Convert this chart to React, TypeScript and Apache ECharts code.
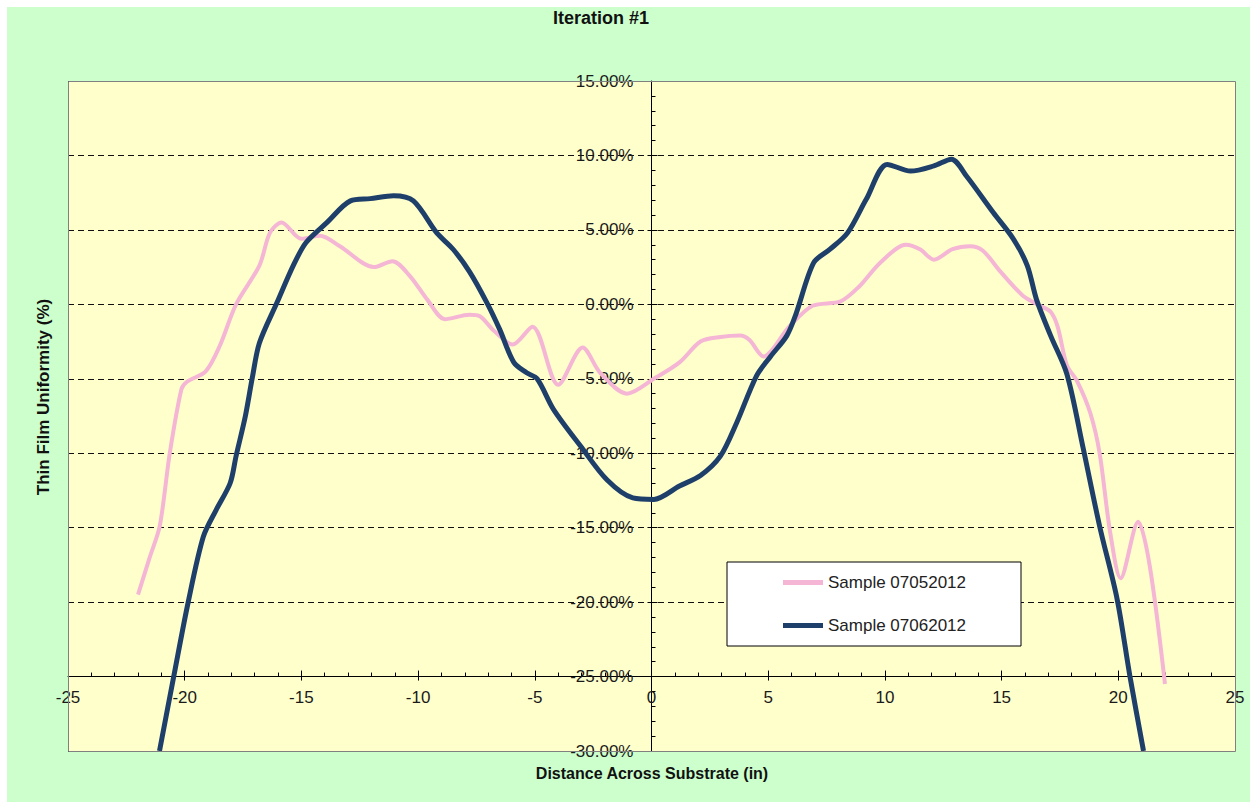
import React, { useEffect, useRef } from "react";
import * as echarts from "echarts";

const titleText = "Iteration #1";
const xAxisTitle = "Distance Across Substrate (in)";
const yAxisTitle = "Thin Film Uniformity (%)";
const seriesNames = ["Sample 07052012", "Sample 07062012"];

// [distance (in), uniformity (%)]
const sample0705: [number, number][] = [
  [-22.0, -19.5], [-21.5, -17.0], [-21.07, -14.9], [-20.64, -10.0], [-20.14, -5.7],
  [-19.9, -5.2], [-19.1, -4.5], [-18.5, -2.8], [-17.8, 0.0], [-16.8, 2.6],
  [-16.35, 4.8], [-15.85, 5.5], [-15.0, 4.4], [-14.2, 4.6], [-13.35, 3.9],
  [-11.9, 2.5], [-11.1, 2.9], [-10.35, 1.9], [-9.6, 0.3], [-8.85, -1.0],
  [-7.8, -0.7], [-7.35, -0.8], [-6.8, -1.7], [-5.95, -2.7], [-5.1, -1.5],
  [-4.0, -5.4], [-2.95, -2.9], [-2.2, -4.6], [-1.05, -6.0], [0.1, -5.0],
  [1.2, -3.9], [2.1, -2.5], [2.95, -2.2], [3.8, -2.1], [4.2, -2.4],
  [4.8, -3.5], [5.9, -1.5], [6.9, -0.1], [8.1, 0.2], [8.9, 1.2],
  [9.8, 2.8], [10.9, 4.0], [11.5, 3.7], [12.1, 3.0], [12.9, 3.7],
  [13.65, 3.9], [14.2, 3.6], [14.95, 2.2], [15.9, 0.6], [16.65, -0.1],
  [17.1, -0.5], [17.4, -1.5], [17.8, -4.1], [18.25, -5.2], [18.8, -7.3],
  [19.2, -10.0], [19.65, -15.3], [20.1, -18.4], [20.85, -14.6], [21.35, -17.6],
  [22.0, -25.5],
];

const sample0706: [number, number][] = [
  [-21.08, -30.0], [-20.47, -25.0], [-19.85, -20.0], [-19.2, -15.6], [-18.65, -13.8],
  [-18.05, -12.0], [-17.8, -10.2], [-17.4, -7.5], [-17.1, -4.9], [-16.8, -2.6],
  [-16.05, 0.1], [-15.35, 2.6], [-14.8, 4.15], [-13.9, 5.5], [-12.9, 6.95],
  [-12.05, 7.1], [-11.05, 7.3], [-10.2, 6.95], [-9.2, 4.8], [-8.5, 3.7],
  [-7.8, 2.2], [-7.05, 0.1], [-6.5, -1.7], [-5.9, -3.9], [-5.35, -4.6],
  [-4.9, -5.0], [-4.2, -7.05], [-3.05, -9.5], [-1.9, -11.8], [-0.8, -13.0],
  [0.1, -13.1], [1.2, -12.2], [2.1, -11.5], [2.95, -10.2], [3.65, -7.95],
  [4.5, -4.8], [5.1, -3.5], [5.8, -2.1], [6.2, -0.6], [6.95, 2.8],
  [7.65, 3.7], [8.4, 4.8], [9.2, 7.05], [10.1, 9.4], [11.1, 8.95],
  [12.1, 9.3], [12.85, 9.75], [13.5, 8.6], [14.65, 6.15], [15.5, 4.4],
  [16.1, 2.6], [16.5, 0.3], [17.1, -2.1], [17.8, -4.7], [18.5, -9.7],
  [19.2, -14.9], [19.95, -19.8], [20.5, -25.0], [21.08, -30.0],
];

const xMin = -25;
const xMax = 25;
const xStep = 5;
const yMin = -30;
const yMax = 15;
const yStep = 5;
const xCross = 0; // y axis drawn at x = 0
const yCross = -25; // x axis drawn at y = -25%

const FONT = "'Liberation Sans', Arial, sans-serif";

export default function App() {
  const ref = useRef<HTMLDivElement>(null);

  useEffect(() => {
    if (!ref.current) return;
    const chart = echarts.init(ref.current, undefined, { renderer: "svg" });
    const gl = 61, gt = 74, gw = 1167, gh = 670;
    const yAxisLeft = gl + (gw * (xCross - xMin)) / (xMax - xMin);
    const xAxisHeight = (gh * (yMax - yCross)) / (yMax - yMin);
    const baseGrid = { outerBoundsMode: "none", containLabel: false, show: false };
    const hiddenVal = (gridIndex: number) => ({ type: "value", gridIndex, min: 0, max: 1, show: false, splitLine: { show: false } });
    const tickLine = { lineStyle: { color: "#000", width: 1 } };
    chart.setOption({
      animation: false,
      backgroundColor: "#CCFFCC",
      textStyle: { fontFamily: FONT },
      grid: [
        { ...baseGrid, left: gl, top: gt, width: gw, height: gh, show: true, backgroundColor: "#FFFFCC", borderWidth: 0 },
        { ...baseGrid, left: gl, top: gt, width: gw, height: xAxisHeight },
        { ...baseGrid, left: yAxisLeft, top: gt, width: 2, height: gh },
        { ...baseGrid, left: gl, top: gt, width: gw, height: xAxisHeight },
        { ...baseGrid, left: yAxisLeft, top: gt, width: 2, height: gh },
      ],
      xAxis: [
        { type: "value", gridIndex: 0, min: xMin, max: xMax, interval: xStep, show: false, splitLine: { show: false } },
        {
          type: "value", gridIndex: 1, min: xMin, max: xMax, interval: xStep, position: "bottom",
          axisLine: { show: true, onZero: false, ...tickLine },
          axisTick: { show: true, inside: true, length: 6, ...tickLine },
          minorTick: { show: true, splitNumber: 5, length: 4, ...tickLine },
          axisLabel: { fontSize: 17, color: "#1a1a1a", margin: 12, fontFamily: FONT, showMinLabel: true, showMaxLabel: true },
          splitLine: { show: false },
        },
        hiddenVal(2),
        {
          type: "value", gridIndex: 3, min: xMin, max: xMax, interval: xStep, position: "bottom",
          axisLine: { show: false, onZero: false },
          axisTick: { show: true, inside: false, length: 4, ...tickLine },
          axisLabel: { show: false },
          splitLine: { show: false },
        },
        hiddenVal(4),
      ],
      yAxis: [
        {
          type: "value", gridIndex: 0, min: yMin, max: yMax, interval: yStep,
          axisLine: { show: false }, axisTick: { show: false }, axisLabel: { show: false },
          splitLine: { show: true, lineStyle: { color: "#111", width: 1, type: [6, 4] } },
        },
        hiddenVal(1),
        {
          type: "value", gridIndex: 2, min: yMin, max: yMax, interval: yStep, position: "left",
          axisLine: { show: true, onZero: false, ...tickLine },
          axisTick: { show: true, inside: true, length: 6, ...tickLine },
          minorTick: { show: true, splitNumber: 5, length: 4, ...tickLine },
          axisLabel: {
            fontSize: 17, color: "#1a1a1a", margin: 18, fontFamily: FONT,
            formatter: (v: number) => v.toFixed(2) + "%",
          },
          splitLine: { show: false },
        },
        hiddenVal(3),
        {
          type: "value", gridIndex: 4, min: yMin, max: yMax, interval: yStep, position: "left",
          axisLine: { show: false, onZero: false },
          axisTick: { show: true, inside: false, length: 4, ...tickLine },
          axisLabel: { show: false },
          splitLine: { show: false },
        },
      ],
      legend: {
        orient: "vertical",
        left: 720,
        top: 555,
        backgroundColor: "#fff",
        borderColor: "#000",
        borderWidth: 1,
        padding: [12, 55, 12, 56],
        itemGap: 26,
        itemWidth: 40,
        itemHeight: 5,
        icon: "rect",
        textStyle: { fontSize: 17, color: "#222", fontFamily: FONT },
        data: seriesNames,
      },
      series: [
        {
          name: seriesNames[0], type: "line", xAxisIndex: 0, yAxisIndex: 0,
          data: sample0705, showSymbol: false, symbol: "none", smooth: 0.3,
          lineStyle: { color: "#F4B6D4", width: 4 }, itemStyle: { color: "#F4B6D4" }, z: 3,
        },
        {
          name: seriesNames[1], type: "line", xAxisIndex: 0, yAxisIndex: 0,
          data: sample0706, showSymbol: false, symbol: "none", smooth: 0.3,
          lineStyle: { color: "#1F3F6B", width: 5 }, itemStyle: { color: "#1F3F6B" }, z: 4,
        },
      ],
      graphic: [
        {
          type: "rect", silent: true, z: 100,
          shape: { x: gl + 0.5, y: gt + 0.5, width: gw, height: gh },
          style: { fill: "none", stroke: "#808080", lineWidth: 1 },
        },
        {
          type: "text", left: 546, top: 2, z: 100,
          style: { text: titleText, fill: "#111", font: `bold 18px ${FONT}` },
        },
        {
          type: "text", x: 36, y: 390, rotation: Math.PI / 2, z: 100,
          style: { text: yAxisTitle, font: `bold 17px ${FONT}`, fill: "#111", align: "center", verticalAlign: "middle" },
        },
        {
          type: "text", x: 645, y: 766, z: 100,
          style: { text: xAxisTitle, font: `bold 16px ${FONT}`, fill: "#111", align: "center", verticalAlign: "middle" },
        },
      ],
    });
    return () => chart.dispose();
  }, []);

  return (
    <div
      ref={ref}
      style={{ position: "absolute", left: 7, top: 7, width: 1243, height: 795 }}
    />
  );
}
